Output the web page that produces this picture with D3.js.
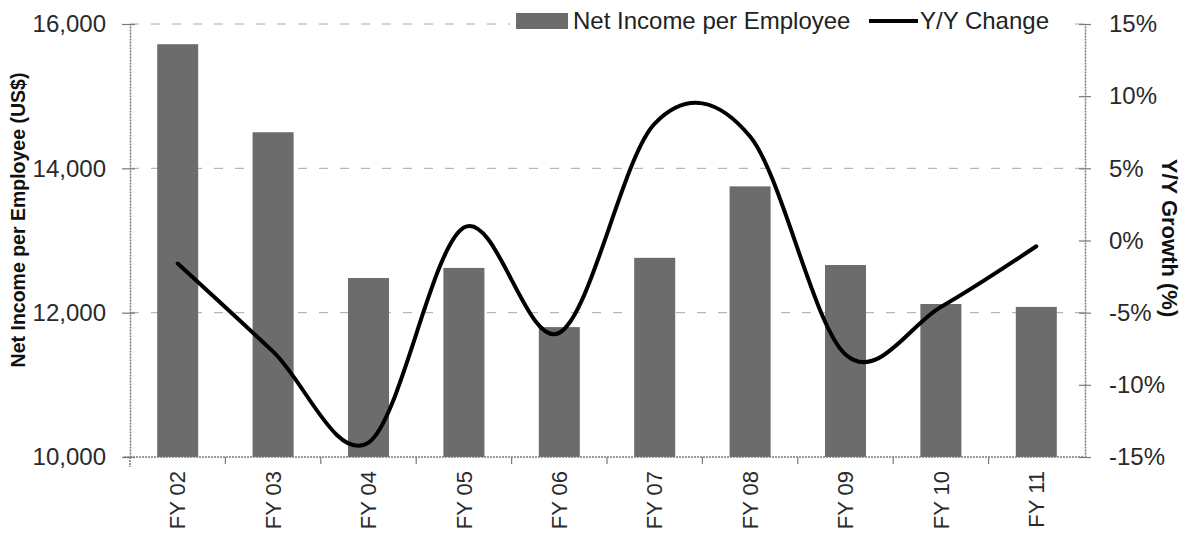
<!DOCTYPE html>
<html>
<head>
<meta charset="utf-8">
<script src="https://cdn.jsdelivr.net/npm/d3@7"></script>
<style>
  body { margin: 0; background: #fff; }
  svg { display: block; font-family: "Liberation Sans", Arial, sans-serif; }
</style>
</head>
<body>
<svg id="chart" width="1186" height="536"></svg>
<script>
// chart data
const categories = ['FY 02', 'FY 03', 'FY 04', 'FY 05', 'FY 06', 'FY 07', 'FY 08', 'FY 09', 'FY 10', 'FY 11'];
const netIncome = [15720, 14500, 12480, 12620, 11800, 12760, 13750, 12660, 12120, 12080];
const yoyChange = [-1.6, -7.7, -14.0, 0.9, -6.4, 8.1, 7.2, -7.9, -4.6, -0.4];
const leftTicks = [10000, 12000, 14000, 16000];
const rightTicks = [-15, -10, -5, 0, 5, 10, 15];

const margin = {left: 130, right: 1084, top: 24, bottom: 457};
const svg = d3.select('#chart');

const x = d3.scaleBand()
    .domain(categories)
    .range([margin.left, margin.right])
    .paddingInner(0.57)
    .paddingOuter(0.285);

// plain band scale, used for the category boundaries
const xSlot = d3.scaleBand()
    .domain(categories)
    .range([margin.left, margin.right]);

const y = d3.scaleLinear().domain([10000, 16000]).range([margin.bottom, margin.top]);
const y2 = d3.scaleLinear().domain([-15, 15]).range([margin.bottom, margin.top]);

//dashed grid lines
svg.append('g')
    .selectAll('line')
    .data(leftTicks.filter(d => d > 10000))
    .join('line')
    .attr('x1', margin.left)
    .attr('x2', margin.right)
    .attr('y1', d => y(d))
    .attr('y2', d => y(d))
    .attr('stroke', '#a8a8a8')
    .attr('stroke-width', 1)
    .attr('stroke-dasharray', '9,12');

//bars
svg.append('g')
    .selectAll('rect')
    .data(netIncome)
    .join('rect')
    .attr('x', (d, i) => x(categories[i]))
    .attr('width', x.bandwidth())
    .attr('y', d => y(d))
    .attr('height', d => y(10000) - y(d))
    .attr('fill', '#6c6c6c');

//axes
const axisStyle = g => {
    g.select('.domain').attr('stroke', '#7a7a7a').attr('stroke-width', 1.5).attr('stroke-dasharray', '2,1');
    g.selectAll('.tick line').attr('stroke', '#7a7a7a').attr('stroke-width', 1.2);
    g.selectAll('.tick text').attr('fill', '#2a2a2a').style('font-size', '24px');
};

svg.append('g')
    .attr('transform', `translate(${margin.left},0)`)
    .call(d3.axisLeft(y).tickValues(leftTicks).tickFormat(d3.format(',')).tickSizeOuter(0).tickPadding(18))
    .call(axisStyle)
    .call(g => g.selectAll('.tick line').attr('x1', 5).attr('x2', -8));

svg.append('g')
    .attr('transform', `translate(${margin.right + 1},0)`)
    .call(d3.axisRight(y2).tickValues(rightTicks).tickFormat(d => d + '%').tickSizeOuter(0).tickPadding(18))
    .call(axisStyle)
    .call(g => g.selectAll('.tick line').attr('x1', -6).attr('x2', 6));

// extend the left axis a little below the plot
svg.append('line')
    .attr('x1', margin.left).attr('x2', margin.left)
    .attr('y1', margin.bottom).attr('y2', margin.bottom + 10)
    .attr('stroke', '#7a7a7a').attr('stroke-width', 1.5).attr('stroke-dasharray', '2,1');

const xAxis = svg.append('g')
    .attr('transform', `translate(0,${margin.bottom})`)
    .call(d3.axisBottom(x).tickSize(0).tickSizeOuter(0).tickPadding(14))
    .call(axisStyle);
xAxis.select('.domain').attr('d', `M${margin.left - 6},0H${margin.right}`);
xAxis.selectAll('.tick text')
    .style('font-size', '22px')
    .attr('transform', 'rotate(-90)')
    .attr('text-anchor', 'end')
    .attr('x', -14)
    .attr('y', 0)
    .attr('dy', '0.35em');

// ticks between categories
svg.append('g')
    .selectAll('line')
    .data(categories.slice(1))
    .join('line')
    .attr('x1', d => xSlot(d))
    .attr('x2', d => xSlot(d))
    .attr('y1', margin.bottom)
    .attr('y2', margin.bottom + 7)
    .attr('stroke', '#7a7a7a')
    .attr('stroke-width', 1.2);

//smoothed y/y line
const line = d3.line()
    .x((d, i) => x(categories[i]) + x.bandwidth() / 2)
    .y(d => y2(d))
    .curve(d3.curveCardinal.tension(0));

svg.append('path')
    .datum(yoyChange)
    .attr('d', line)
    .attr('fill', 'none')
    .attr('stroke', '#000')
    .attr('stroke-width', 4)
    .attr('stroke-linecap', 'round');

// axis titles
svg.append('text')
    .attr('transform', 'translate(25,220) rotate(-90)')
    .attr('text-anchor', 'middle')
    .style('font-size', '19.5px')
    .style('font-weight', 'bold')
    .attr('fill', '#111')
    .text('Net Income per Employee (US$)');

svg.append('text')
    .attr('transform', 'translate(1162,238) rotate(90)')
    .attr('text-anchor', 'middle')
    .style('font-size', '22px')
    .style('font-weight', 'bold')
    .attr('fill', '#111')
    .text('Y/Y Growth (%)');

// legend
const legend = svg.append('g');
legend.append('rect')
    .attr('x', 510).attr('y', 4).attr('width', 560).attr('height', 32)
    .attr('fill', '#fff');
legend.append('rect')
    .attr('x', 516).attr('y', 13).attr('width', 52).attr('height', 16)
    .attr('fill', '#6c6c6c');
legend.append('text')
    .attr('x', 573).attr('y', 29)
    .style('font-size', '24px')
    .attr('fill', '#222')
    .text('Net Income per Employee');
legend.append('line')
    .attr('x1', 869).attr('x2', 918).attr('y1', 21).attr('y2', 21)
    .attr('stroke', '#000').attr('stroke-width', 4);
legend.append('text')
    .attr('x', 920).attr('y', 29)
    .style('font-size', '24px')
    .attr('fill', '#222')
    .text('Y/Y Change');
</script>
</body>
</html>
